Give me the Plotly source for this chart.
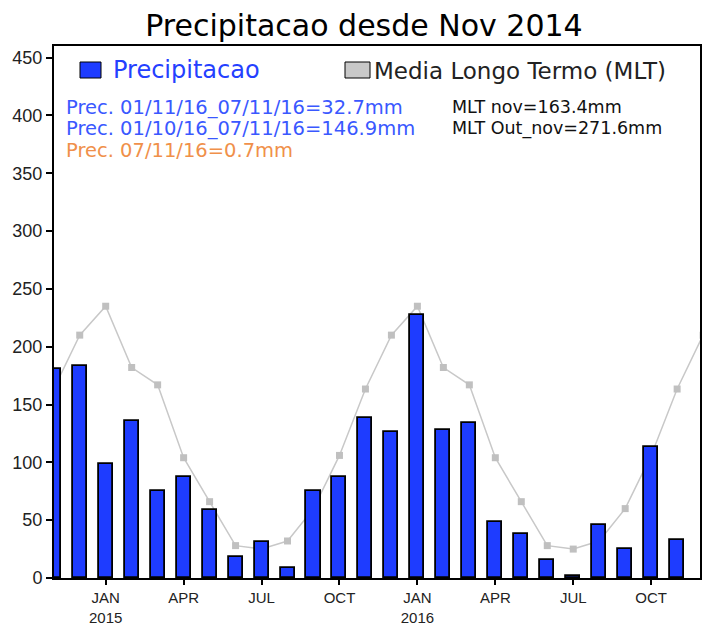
import plotly.graph_objects as go

# ---- data ----
months = list(range(25))  # Nov 2014 .. Nov 2016 (month index)
precip = [181, 183, 99, 136, 75, 87, 59, 18, 31, 9, 75, 87,
          138, 126, 227, 128, 134, 48, 38, 16, 2, 46, 25, 113, 32.7]
mlt_months = list(range(26))  # Nov 2014 .. Dec 2016
mlt = [163.4, 210, 235, 182, 167, 104, 66, 28, 25, 32, 60, 106,
       163.4, 210, 235, 182, 167, 104, 66, 28, 25, 32, 60, 106,
       163.4, 210]
tick_idx = [2, 5, 8, 11, 14, 17, 20, 23]
tick_lbl = ["JAN<br>2015", "APR", "JUL", "OCT", "JAN<br>2016", "APR", "JUL", "OCT"]
y_ticks = [0, 50, 100, 150, 200, 250, 300, 350, 400, 450]

W, H = 703, 627
L, R, T, B = 54, 700, 46, 578
XR = [0.01, 24.88]
YR = [0, 460]

def px(x):
    return (x - L) / (R - L)

def py(y):
    return (B - y) / (B - T)

BLUE = "#1e3cff"
fig = go.Figure()

# MLT line on base axes (drawn below bars)
fig.add_trace(go.Scatter(
    x=mlt_months, y=mlt, mode="lines+markers",
    line=dict(color="#c8c8c8", width=1.5),
    marker=dict(symbol="square", size=7, color="#c0c0c0"),
    xaxis="x", yaxis="y", showlegend=False, cliponaxis=True))

# Precipitation bars on overlay axes (drawn above line)
fig.add_trace(go.Bar(
    x=months, y=precip, width=0.54,
    marker=dict(color=BLUE, line=dict(color="black", width=1.8)),
    xaxis="x2", yaxis="y2", showlegend=False))

axfont = dict(family="Liberation Sans, Arial, sans-serif", size=18, color="#222")
fig.update_layout(
    width=W, height=H, autosize=False,
    margin=dict(l=L, r=W - R, t=T, b=H - B, pad=0, autoexpand=False),
    paper_bgcolor="white", plot_bgcolor="white",
    bargap=0, showlegend=False,
    xaxis=dict(range=XR, tickvals=tick_idx, ticktext=tick_lbl, automargin=False,
               ticks="outside", ticklen=5, tickwidth=1.5, tickcolor="black",
               showline=True, linecolor="black", linewidth=2, mirror=True,
               showgrid=False, zeroline=False, tickfont=dict(axfont, size=15)),
    yaxis=dict(range=YR, tickvals=y_ticks, automargin=False,
               ticks="outside", ticklen=6, tickwidth=1.5, tickcolor="black",
               showline=True, linecolor="black", linewidth=2, mirror=True,
               showgrid=False, zeroline=False, tickfont=axfont),
    xaxis2=dict(range=XR, overlaying="x", visible=False),
    yaxis2=dict(range=YR, overlaying="y", visible=False),
)

fig.update_layout(title=dict(
    text="Precipitacao desde Nov 2014",
    x=364 / W, xref="container", xanchor="center",
    y=1 - 25 / H, yref="container", yanchor="middle",
    font=dict(family="DejaVu Sans", size=30, color="black")))

# legend swatches
fig.add_shape(type="rect", xref="paper", yref="paper",
              x0=px(80), x1=px(101), y0=py(78), y1=py(62),
              fillcolor=BLUE, line=dict(color="black", width=1))
fig.add_shape(type="rect", xref="paper", yref="paper",
              x0=px(345), x1=px(370), y0=py(78), y1=py(62),
              fillcolor="#c8c8c8", line=dict(color="black", width=1))

def note(x, y, text, color, size):
    fig.add_annotation(xref="paper", yref="paper", x=px(x), y=py(y),
                       xanchor="left", yanchor="middle", showarrow=False,
                       text=text, font=dict(family="DejaVu Sans", size=size, color=color))

note(111, 70, "Precipitacao", "#2440ff", 24)
note(372, 71, "Media Longo Termo (MLT)", "#222", 23)
note(64, 107, "Prec. 01/11/16_07/11/16=32.7mm", "#3a58ff", 19.5)
note(64, 128, "Prec. 01/10/16_07/11/16=146.9mm", "#3a58ff", 19.5)
note(64, 150, "Prec. 07/11/16=0.7mm", "#f0904a", 19.5)
note(450, 107, "MLT nov=163.4mm", "#111", 17.5)
note(450, 128, "MLT Out_nov=271.6mm", "#111", 17.5)

fig.write_html("out.html", config={"displayModeBar": False},
               post_script="document.body.style.margin='0';")
